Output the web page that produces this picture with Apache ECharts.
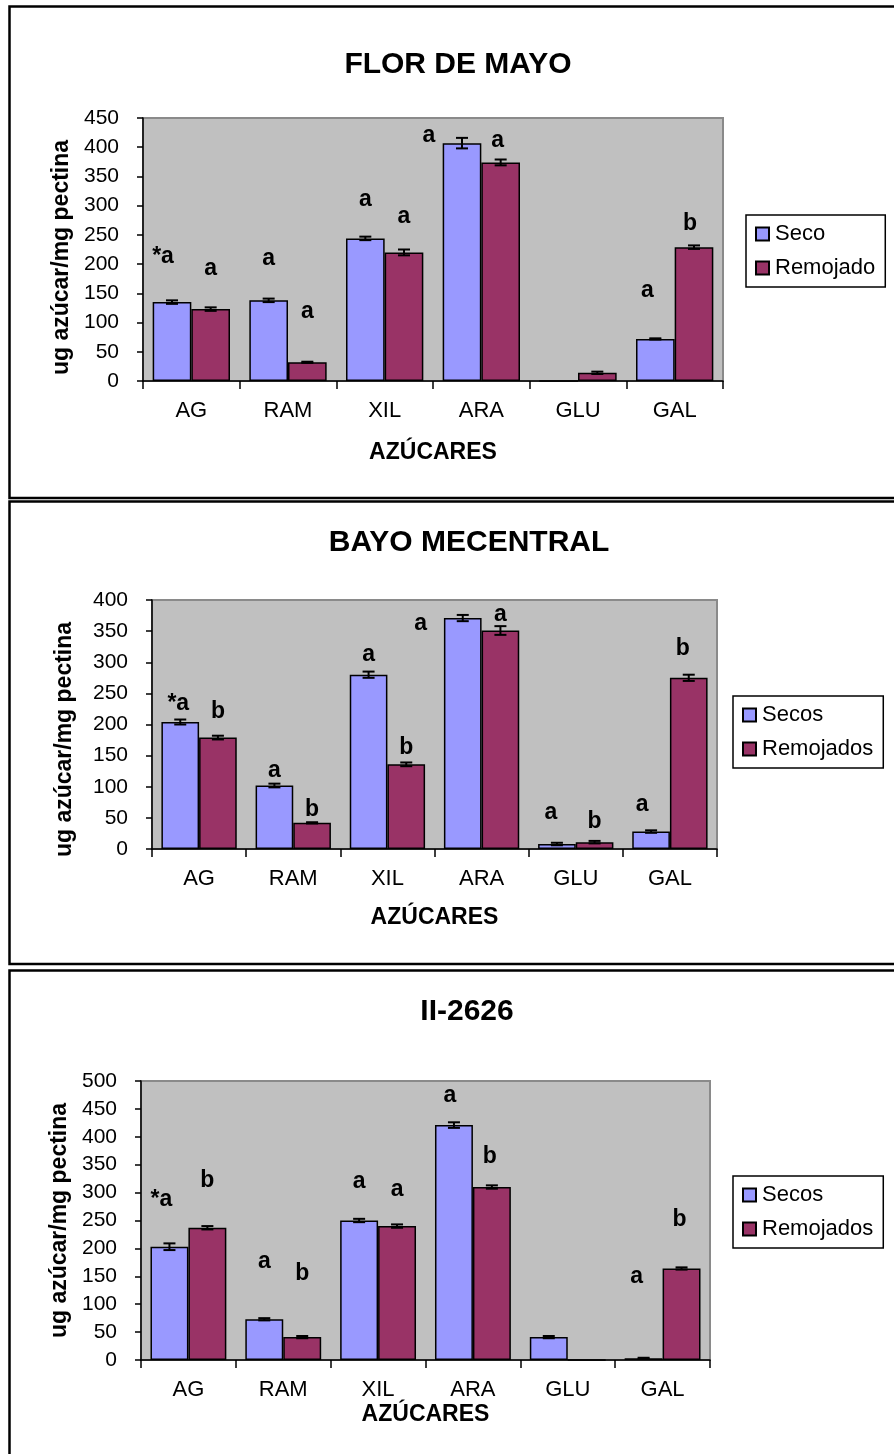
<!DOCTYPE html>
<html>
<head>
<meta charset="utf-8">
<title>Azúcares en pectina</title>
<script src="https://cdn.jsdelivr.net/npm/echarts@6/dist/echarts.min.js"></script>
<style>
  html, body { margin: 0; padding: 0; background: #fff; }
  #chart { width: 894px; height: 1454px; }
</style>
</head>
<body>
<div id="chart"></div>
<script>
// Sugar categories shared by the three panels
const sugars = ['AG', 'RAM', 'XIL', 'ARA', 'GLU', 'GAL'];
const yTicks1 = { max: 450, interval: 50 };
const yTicks2 = { max: 400, interval: 50 };
const yTicks3 = { max: 500, interval: 50 };

// FLOR DE MAYO (ug azúcar / mg pectina)
const florSeco = [135, 138, 244, 407, 0, 72];
const florSecoErr = [3, 3, 3, 9, 0, 1];
const florRemojado = [123, 32, 220, 374, 14, 229];
const florRemojadoErr = [3, 1, 5, 5, 2, 3];
const florSecoLetters = ['*a', 'a', 'a', 'a', '', 'a'];
const florRemojadoLetters = ['a', 'a', 'a', 'a', '', 'b'];
const florSecoLetterAt = [212, 209, 310, 420, 0, 155];
const florRemojadoLetterAt = [192, 118, 281, 412, 0, 269];

// BAYO MECENTRAL
const bayoSeco = [204, 102, 280, 371, 8, 28];
const bayoSecoErr = [4, 3, 5, 5, 2, 2];
const bayoRemojado = [179, 42, 136, 351, 11, 275];
const bayoRemojadoErr = [3, 1, 3, 7, 2, 5];
const bayoSecoLetters = ['*a', 'a', 'a', 'a', 'a', 'a'];
const bayoRemojadoLetters = ['b', 'b', 'b', 'a', 'b', 'b'];
const bayoSecoLetterAt = [234, 126, 312, 362, 58, 71];
const bayoRemojadoLetterAt = [221, 64, 162, 376, 44, 322];

// II-2626
const iiSeco = [203, 73, 250, 421, 41, 3];
const iiSecoErr = [6, 2, 3, 5, 2, 1];
const iiRemojado = [237, 41, 240, 310, 0, 164];
const iiRemojadoErr = [3, 2, 3, 3, 0, 2];
const iiSecoLetters = ['*a', 'a', 'a', 'a', '', 'a'];
const iiRemojadoLetters = ['b', 'b', 'a', 'b', '', 'b'];
const iiSecoLetterAt = [288, 176, 319, 474, 0, 149];
const iiRemojadoLetterAt = [322, 155, 305, 364, 0, 251];

const FONT = '"Liberation Sans", Arial, sans-serif';
const SECO_COLOR = '#9999ff';
const REM_COLOR = '#993366';
const CAT_GAP = 0.20;

const option = {
  animation: false,
  backgroundColor: '#ffffff',
  title: [], grid: [], xAxis: [], yAxis: [], legend: [], series: [],
  graphic: []
};

// Error bars and significance letters for one bar group (side -1 = left bar, +1 = right bar)
function overlaySeries(gi, side, values, errs, letters, letterAt, nudge) {
  return {
    type: 'custom',
    xAxisIndex: gi, yAxisIndex: gi,
    z: 5,
    silent: true,
    data: values.map((v, i) => [i, v]),
    renderItem: function (params, api) {
      const i = params.dataIndex;
      const band = api.size([1, 0])[0];
      const barW = band * (1 - CAT_GAP) / 2;
      const cx = api.coord([i, 0])[0] + side * barW / 2;
      const children = [];
      const v = values[i], e = errs[i];
      if (v > 0 && e > 0) {
        const yt = api.coord([i, v + e])[1];
        const yb = api.coord([i, Math.max(0, v - e)])[1];
        const cap = 6;
        const st = { stroke: '#000', lineWidth: 2 };
        children.push({ type: 'line', shape: { x1: cx, y1: yt, x2: cx, y2: yb }, style: st });
        children.push({ type: 'line', shape: { x1: cx - cap, y1: yt, x2: cx + cap, y2: yt }, style: st });
        children.push({ type: 'line', shape: { x1: cx - cap, y1: yb, x2: cx + cap, y2: yb }, style: st });
      }
      if (letters[i]) {
        const p = api.coord([i, letterAt[i]]);
        children.push({
          type: 'text',
          style: {
            x: cx + (nudge[i] || 0), y: p[1],
            text: letters[i],
            fill: '#000',
            font: 'bold 23px ' + FONT,
            align: 'center', verticalAlign: 'middle'
          }
        });
      }
      return { type: 'group', children: children };
    }
  };
}

function addPanel(cfg) {
  const gi = option.grid.length;
  option.grid.push({
    left: cfg.left, top: cfg.top, width: cfg.width, height: cfg.height,
    show: true, backgroundColor: '#c0c0c0', borderColor: '#8a8a8a', borderWidth: 2
  });
  option.title.push({
    text: cfg.title, left: cfg.titleX, top: cfg.titleY, textAlign: 'center',
    textStyle: { fontFamily: FONT, fontWeight: 'bold', fontSize: 30, color: '#000' }
  });
  option.xAxis.push({
    type: 'category', gridIndex: gi, data: sugars,
    name: 'AZÚCARES', nameLocation: 'middle', nameGap: cfg.xNameGap,
    nameTextStyle: { fontFamily: FONT, fontWeight: 'bold', fontSize: 23, color: '#000' },
    axisLine: { lineStyle: { color: '#000', width: 1.5 } },
    axisTick: { show: true, length: 8, interval: 0, lineStyle: { color: '#000', width: 1.5 } },
    axisLabel: { interval: 0, margin: 19, fontFamily: FONT, fontSize: 22, color: '#000' },
    splitLine: { show: false }
  });
  option.yAxis.push({
    type: 'value', gridIndex: gi, min: 0, max: cfg.ticks.max, interval: cfg.ticks.interval,
    name: 'ug azúcar/mg pectina', nameLocation: 'middle', nameGap: cfg.yNameGap,
    nameTextStyle: {
      fontFamily: FONT, fontWeight: 'bold', fontSize: 23, color: '#000',
      padding: cfg.yNamePad
    },
    axisLine: { show: true, lineStyle: { color: '#000', width: 1.5 } },
    axisTick: { show: true, length: 6, lineStyle: { color: '#000', width: 1.5 } },
    axisLabel: { margin: 24, fontFamily: FONT, fontSize: 21, color: '#000' },
    splitLine: { show: false }
  });
  option.legend.push({
    data: cfg.names, orient: 'vertical', left: cfg.legendX, top: cfg.legendY,
    backgroundColor: '#fff', borderColor: '#000', borderWidth: 1.5, borderRadius: 0,
    padding: [8, 10, 8, 9], itemWidth: 13, itemHeight: 13, itemGap: 12,
    icon: 'rect',
    textStyle: { fontFamily: FONT, fontSize: 22, color: '#000', padding: [0, 0, 0, 1] }
  });
  const barBase = {
    type: 'bar', xAxisIndex: gi, yAxisIndex: gi,
    barGap: '0%', barCategoryGap: (CAT_GAP * 100) + '%'
  };
  option.series.push(Object.assign({}, barBase, {
    name: cfg.names[0], data: cfg.seco,
    itemStyle: { color: SECO_COLOR, borderColor: '#000', borderWidth: 1.5 }
  }));
  option.series.push(Object.assign({}, barBase, {
    name: cfg.names[1], data: cfg.rem,
    itemStyle: { color: REM_COLOR, borderColor: '#000', borderWidth: 1.5 }
  }));
  option.series.push(overlaySeries(gi, -1, cfg.seco, cfg.secoErr, cfg.secoLetters, cfg.secoLetterAt, cfg.secoNudge));
  option.series.push(overlaySeries(gi, 1, cfg.rem, cfg.remErr, cfg.remLetters, cfg.remLetterAt, cfg.remNudge));
  // panel frame
  option.graphic.push({
    type: 'rect', silent: true, z: 100,
    shape: { x: 9.5, y: cfg.frameTop, width: 900, height: cfg.frameHeight },
    style: { fill: 'none', stroke: '#000', lineWidth: 2.5 }
  });
}

addPanel({
  title: 'FLOR DE MAYO', titleX: 453, titleY: 45,
  left: 143, top: 118, width: 580, height: 263,
  ticks: yTicks1, xNameGap: 60, yNameGap: 68, yNamePad: [0, 16, 0, 0],
  names: ['Seco', 'Remojado'], legendX: 746, legendY: 215,
  seco: florSeco, secoErr: florSecoErr, rem: florRemojado, remErr: florRemojadoErr,
  secoLetters: florSecoLetters, secoLetterAt: florSecoLetterAt, secoNudge: [-9, 0, 0, -33, 0, -8],
  remLetters: florRemojadoLetters, remLetterAt: florRemojadoLetterAt, remNudge: [0, 0, 0, -3, 0, -4],
  frameTop: 6.5, frameHeight: 491.5
});

addPanel({
  title: 'BAYO MECENTRAL', titleX: 464, titleY: 523,
  left: 152, top: 600, width: 565, height: 249,
  ticks: yTicks2, xNameGap: 57, yNameGap: 76, yNamePad: [0, 30, 0, 0],
  names: ['Secos', 'Remojados'], legendX: 733, legendY: 696,
  seco: bayoSeco, secoErr: bayoSecoErr, rem: bayoRemojado, remErr: bayoRemojadoErr,
  secoLetters: bayoSecoLetters, secoLetterAt: bayoSecoLetterAt, secoNudge: [-2, 0, 0, -42, -6, -9],
  remLetters: bayoRemojadoLetters, remLetterAt: bayoRemojadoLetterAt, remNudge: [0, 0, 0, 0, 0, -6],
  frameTop: 501.5, frameHeight: 462.5
});

addPanel({
  title: 'II-2626', titleX: 462, titleY: 992,
  left: 141, top: 1081, width: 569, height: 279,
  ticks: yTicks3, xNameGap: 43, yNameGap: 67, yNamePad: [0, 0, 0, 0],
  names: ['Secos', 'Remojados'], legendX: 733, legendY: 1176,
  seco: iiSeco, secoErr: iiSecoErr, rem: iiRemojado, remErr: iiRemojadoErr,
  secoLetters: iiSecoLetters, secoLetterAt: iiSecoLetterAt, secoNudge: [-8, 0, 0, -4, 0, -7],
  remLetters: iiRemojadoLetters, remLetterAt: iiRemojadoLetterAt, remNudge: [0, 0, 0, -2, 0, -2],
  frameTop: 970.5, frameHeight: 500
});

const chart = echarts.init(document.getElementById('chart'), null, { renderer: 'canvas' });
chart.setOption(option);
</script>
</body>
</html>
